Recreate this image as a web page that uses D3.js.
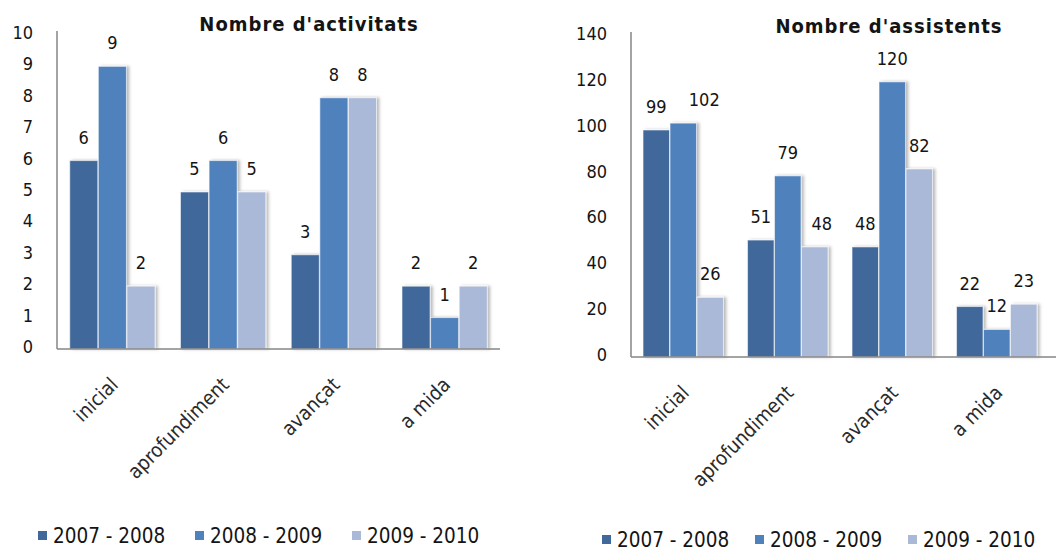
<!DOCTYPE html>
<html>
<head>
	<meta charset="utf-8">
	<title></title>
	<style>
	body{
		margin: 0;
		background: #fff;
	}
	svg text{
		font-family: "DejaVu Sans Condensed", "DejaVu Sans", Verdana, sans-serif;
		font-stretch: condensed;
		fill: #141414;
	}
	.title{
		font-weight: bold;
		font-size: 20px;
		letter-spacing: 1px;
	}
	.tick{
		font-size: 18px;
	}
	.valueLabel{
		font-size: 18px;
	}
	.catLabel{
		font-size: 20px;
		fill: #2a2a2a;
	}
	.legend text{
		font-size: 20.5px;
	}
	.axisLine{
		stroke: #868686;
		stroke-width: 1.5px;
	}
	</style>
</head>
<body>
	<svg width="1056" height="554"></svg>
	<script src="https://cdnjs.cloudflare.com/ajax/libs/d3/7.8.5/d3.min.js"></script>
	<script type="text/javascript">

		var categories = ["inicial", "aprofundiment", "avançat", "a mida"];
		var seasons = ["2007 - 2008", "2008 - 2009", "2009 - 2010"];
		var colors = ["#41689a", "#4f81bd", "#aab9d7"];

		// one row per season, one value per category
		var activitats = [
			[6, 5, 3, 2],
			[9, 6, 8, 1],
			[2, 5, 8, 2]
		];
		var assistents = [
			[99, 51, 48, 22],
			[102, 79, 120, 12],
			[26, 48, 82, 23]
		];
		var activitatsTicks = [0, 1, 2, 3, 4, 5, 6, 7, 8, 9, 10];
		var assistentsTicks = [0, 20, 40, 60, 80, 100, 120, 140];

		var svg = d3.select("svg");

		var defs = svg.append("defs");
		defs.append("filter")
			.attr("id", "barShadow")
			.attr("x", "-20%").attr("y", "-10%")
			.attr("width", "150%").attr("height", "120%")
		  .append("feDropShadow")
			.attr("dx", 2.5).attr("dy", 0)
			.attr("stdDeviation", 1.6)
			.attr("flood-color", "#000")
			.attr("flood-opacity", 0.28);

		function drawChart(opts){
			var g = svg.append("g");

			var y = d3.scaleLinear().domain([0, opts.max]).range([opts.bottom, opts.top]);
			var x = d3.scaleBand().domain(categories).range([opts.left, opts.right])
				.paddingInner(0.22).paddingOuter(0.11);
			var xs = d3.scaleBand().domain(d3.range(seasons.length)).range([0, x.bandwidth()]).padding(0.02);

			// title
			g.append("text")
				.attr("class", "title")
				.attr("x", opts.titleX)
				.attr("y", opts.titleY)
				.attr("text-anchor", "middle")
				.text(opts.title);

			// y tick labels
			g.selectAll(".tick")
				.data(opts.ticks)
				.enter().append("text")
				.attr("class", "tick")
				.attr("x", opts.left - 24)
				.attr("y", function(d){ return y(d); })
				.attr("dy", "0.22em")
				.attr("text-anchor", "end")
				.text(function(d){ return d; });

			// bars
			var rows = [];
			opts.values.forEach(function(serie, s){
				serie.forEach(function(v, c){
					rows.push({s: s, c: c, v: v});
				});
			});

			g.append("g")
				.attr("filter", "url(#barShadow)")
			  .selectAll("rect")
				.data(rows)
				.enter().append("rect")
				.attr("x", function(d){ return x(categories[d.c]) + xs(d.s); })
				.attr("y", function(d){ return y(d.v); })
				.attr("width", xs.bandwidth())
				.attr("height", function(d){ return y(0) - y(d.v); })
				.attr("fill", function(d){ return colors[d.s]; })
				.attr("stroke", "#fff")
				.attr("stroke-opacity", 0.55)
				.attr("stroke-width", 1);

			// value labels
			g.selectAll(".valueLabel")
				.data(rows)
				.enter().append("text")
				.attr("class", "valueLabel")
				.attr("x", function(d){
					var nudge = opts.nudge[d.s + "-" + d.c] || 0;
					return x(categories[d.c]) + xs(d.s) + xs.bandwidth() / 2 + nudge;
				})
				.attr("y", function(d){ return y(d.v) - 17; })
				.attr("text-anchor", "middle")
				.text(function(d){ return d.v; });

			// axis lines
			g.append("line")
				.attr("class", "axisLine")
				.attr("x1", opts.left).attr("x2", opts.left)
				.attr("y1", opts.top - 4).attr("y2", opts.bottom);
			g.append("line")
				.attr("class", "axisLine")
				.attr("x1", opts.left).attr("x2", opts.axisEnd)
				.attr("y1", opts.bottom).attr("y2", opts.bottom);

			// category labels, rotated
			g.selectAll(".catLabel")
				.data(categories)
				.enter().append("text")
				.attr("class", "catLabel")
				.attr("text-anchor", "end")
				.attr("transform", function(d){
					var cx = x(d) + x.bandwidth() / 2 + 7;
					var cy = opts.bottom + 37;
					return "translate(" + cx + "," + cy + ") rotate(-45)";
				})
				.text(function(d){ return d; });

			// legend
			var legend = g.append("g").attr("class", "legend");
			var item = legend.selectAll("g")
				.data(seasons)
				.enter().append("g")
				.attr("transform", function(d, i){
					return "translate(" + (opts.legendX + i * opts.legendStep) + "," + opts.legendY + ")";
				});
			item.append("rect")
				.attr("x", 0).attr("y", -12)
				.attr("width", 9).attr("height", 9)
				.attr("fill", function(d, i){ return colors[i]; });
			item.append("text")
				.attr("x", 15)
				.attr("y", 0)
				.text(function(d){ return d; });
		}

		drawChart({
			title: "Nombre d'activitats",
			titleX: 309, titleY: 31,
			values: activitats,
			ticks: activitatsTicks,
			max: 10,
			left: 57, right: 500, axisEnd: 500,
			top: 35, bottom: 349,
			nudge: {},
			legendX: 38, legendY: 543, legendStep: 157
		});

		drawChart({
			title: "Nombre d'assistents",
			titleX: 889, titleY: 33,
			values: assistents,
			ticks: assistentsTicks,
			max: 140,
			left: 631, right: 1049, axisEnd: 1056,
			top: 36, bottom: 357,
			nudge: {"1-0": 21, "2-1": 7},
			legendX: 602, legendY: 547, legendStep: 153
		});

	</script>
</body>
</html>
